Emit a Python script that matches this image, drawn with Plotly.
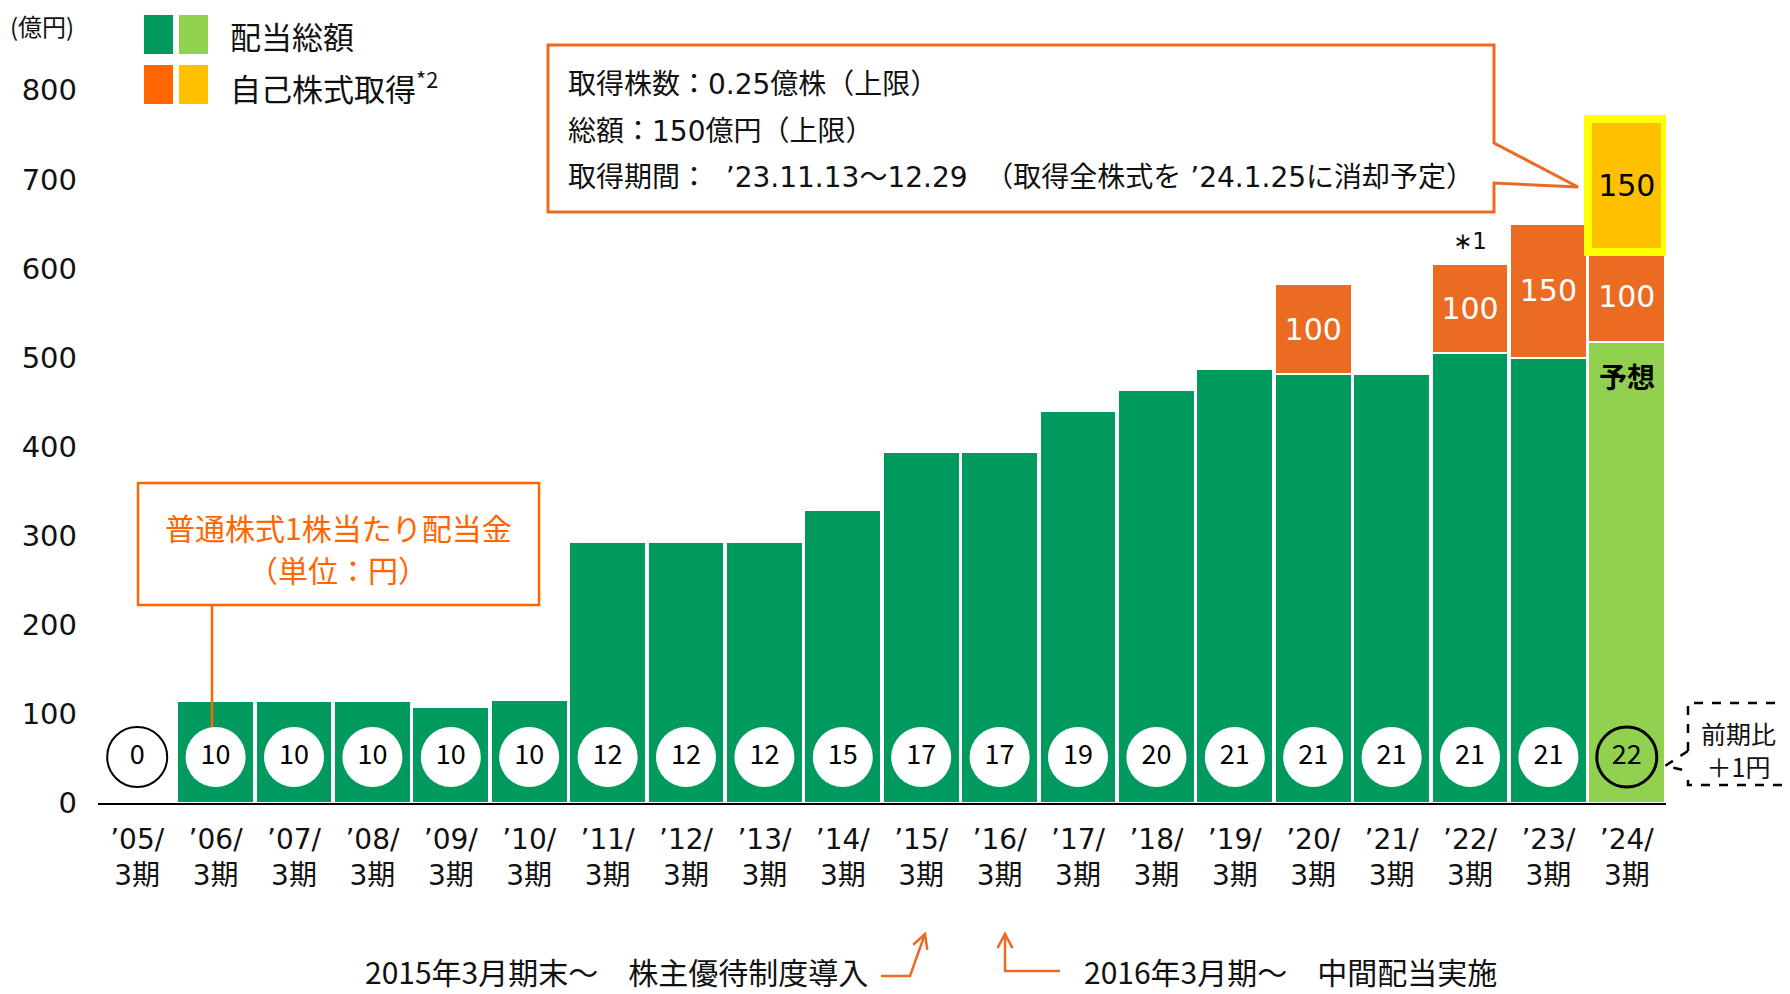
import math
import plotly.graph_objects as go

# ---------------- data ----------------
years = ["05", "06", "07", "08", "09", "10", "11", "12", "13", "14",
         "15", "16", "17", "18", "19", "20", "21", "22", "23", "24"]
categories = [f"’{y}/<br>3期" for y in years]
dividend_total = [0, 114, 114, 114, 108, 116, 293, 293, 293, 329,
                  394, 394, 440, 464, 487, 482, 482, 505, 500, 518]
buyback = [None] * 15 + [100, None, 100, 150, 100]
buyback_new = [None] * 19 + [150]
dps = [0, 10, 10, 10, 10, 10, 12, 12, 12, 15,
       17, 17, 19, 20, 21, 21, 21, 21, 21, 22]
y_ticks = [0, 100, 200, 300, 400, 500, 600, 700, 800]

# ---------------- styling ----------------
DARK_GREEN = "#00995E"
LIGHT_GREEN = "#92D050"
BAR_ORANGE = "#EB6B22"
LEG_ORANGE = "#FF6600"
YELLOW = "#FFC000"
HILITE = "#FFFF00"
CJK = "Noto Sans CJK JP"
WIDE = "DejaVu Sans, Noto Sans CJK JP"

PAGE_W, PAGE_H = 1790, 994
OFF = 8                      # default body margin of the html page
W, H = PAGE_W - OFF, PAGE_H - OFF
# plot area in page pixels
L, R, T, B = 98, 1666, 19, 803
Y_MAX = 880


def fx(p):
    return (p - L) / (R - L)


def fy(p):
    return (B - p) / (B - T)


def present(values):
    pairs = [(c, v) for c, v in zip(categories, values) if v is not None]
    return [c for c, _ in pairs], [v for _, v in pairs]


CIRCLE_Y = (B - 757) / ((B - T) / Y_MAX)

green_colors = [DARK_GREEN] * (len(years) - 1) + [LIGHT_GREEN]

fig = go.Figure()
fig.add_trace(go.Bar(
    x=categories, y=dividend_total, name="配当総額",
    marker=dict(color=green_colors, line=dict(color="white", width=2)),
    hoverinfo="skip"))
bx, by = present(buyback)
fig.add_trace(go.Bar(
    x=bx, y=by, name="自己株式取得",
    marker=dict(color=BAR_ORANGE, line=dict(color="white", width=2)),
    text=[str(v) for v in by],
    textposition="inside", insidetextanchor="middle",
    textfont=dict(family=WIDE, size=30, color="white"),
    hoverinfo="skip"))
nx, ny = present(buyback_new)
fig.add_trace(go.Bar(
    x=nx, y=ny, name="自己株式取得(新規)",
    marker=dict(color=YELLOW, line=dict(color=HILITE, width=8)),
    text=[str(v) for v in ny],
    textposition="inside", insidetextanchor="middle",
    textfont=dict(family=WIDE, size=30, color="black"),
    hoverinfo="skip"))

# circles with dividend per share
circle_fill = ["white"] * len(years)
circle_fill[-1] = "rgba(0,0,0,0)"
circle_line_c = ["white"] * len(years)
circle_line_c[0] = "black"
circle_line_c[-1] = "black"
circle_line_w = [0] * len(years)
circle_line_w[0] = 2
circle_line_w[-1] = 3
fig.add_trace(go.Scatter(
    x=categories, y=[CIRCLE_Y] * len(years), mode="markers+text",
    text=[str(v) for v in dps], textposition="middle center",
    textfont=dict(family=CJK, size=27, color="black"),
    marker=dict(size=60, color=circle_fill,
                line=dict(color=circle_line_c, width=circle_line_w)),
    cliponaxis=False, hoverinfo="skip"))

shapes = []
annos = []

# legend squares
for (x0, x1, y0, y1, c) in [(144, 173, 15, 54, DARK_GREEN), (179, 208, 15, 54, LIGHT_GREEN),
                            (144, 173, 65, 104, LEG_ORANGE), (179, 208, 65, 104, YELLOW)]:
    shapes.append(dict(type="rect", xref="paper", yref="paper", x0=fx(x0), x1=fx(x1),
                       y0=fy(y1), y1=fy(y0), fillcolor=c, line=dict(width=0)))
annos.append(dict(text="配当総額", x=fx(228), y=fy(36), xref="paper", yref="paper",
                  xanchor="left", yanchor="middle", showarrow=False,
                  font=dict(family=CJK, size=31, color="#111")))
annos.append(dict(text="自己株式取得<sup>*2</sup>", x=fx(228), y=fy(86), xref="paper", yref="paper",
                  xanchor="left", yanchor="middle", showarrow=False,
                  font=dict(family=CJK, size=31, color="#111")))
annos.append(dict(text="(億円)", x=fx(8), y=fy(25), xref="paper", yref="paper",
                  xanchor="left", yanchor="middle", showarrow=False,
                  font=dict(family=CJK, size=24, color="#111")))


def path(points, close=False):
    s = "M " + " L ".join(f"{fx(a):.5f},{fy(b):.5f}" for a, b in points)
    return s + (" Z" if close else "")


# callout box (top)
shapes.append(dict(type="path", xref="paper", yref="paper",
                   path=path([(548, 45), (1494, 45), (1494, 143), (1578, 187),
                              (1494, 183), (1494, 212), (548, 212)], close=True),
                   fillcolor="white", line=dict(color="#EB6B22", width=3)))
callout_lines = ["取得株数：0.25億株（上限）",
                 "総額：150億円（上限）",
                 "取得期間：  ’23.11.13～12.29  （取得全株式を ’24.1.25に消却予定）"]
for txt, yy in zip(callout_lines, [84, 131, 178]):
    annos.append(dict(text=txt, x=fx(566), y=fy(yy), xref="paper", yref="paper",
                      xanchor="left", yanchor="middle", showarrow=False,
                      font=dict(family=WIDE, size=28, color="#111")))

# left callout box
shapes.append(dict(type="rect", xref="paper", yref="paper", x0=fx(138), x1=fx(539),
                   y0=fy(605), y1=fy(483), fillcolor="white",
                   line=dict(color=LEG_ORANGE, width=2.5)))
shapes.append(dict(type="line", xref="paper", yref="paper", x0=fx(212), x1=fx(212),
                   y0=fy(605), y1=fy(727), line=dict(color=LEG_ORANGE, width=2.5)))
annos.append(dict(text="普通株式1株当たり配当金", x=fx(338), y=fy(527),
                  xref="paper", yref="paper", xanchor="center", yanchor="middle",
                  showarrow=False, font=dict(family=CJK, size=30, color=LEG_ORANGE)))
annos.append(dict(text="（単位：円）", x=fx(338), y=fy(569),
                  xref="paper", yref="paper", xanchor="center", yanchor="middle",
                  showarrow=False, font=dict(family=CJK, size=30, color=LEG_ORANGE)))

# dashed box right
shapes.append(dict(type="path", xref="paper", yref="paper",
                   path=path([(1688, 751), (1688, 703), (1787, 703), (1787, 785),
                              (1688, 785), (1688, 771)]),
                   line=dict(color="black", width=2.5, dash="dash")))
shapes.append(dict(type="path", xref="paper", yref="paper",
                   path=path([(1688, 751), (1665, 766), (1688, 771)]),
                   line=dict(color="black", width=2.5, dash="dash")))
annos.append(dict(text="前期比<br>＋1円", x=fx(1738), y=fy(749), xref="paper", yref="paper",
                  xanchor="center", yanchor="middle", showarrow=False, align="center",
                  font=dict(family=CJK, size=25, color="#111")))

# labels on bars
annos.append(dict(text="<b>予想</b>", x=categories[19], y=dividend_total[19], xref="x", yref="y",
                  xanchor="center", yanchor="top", yshift=-12, showarrow=False,
                  font=dict(family=CJK, size=28, color="black")))
annos.append(dict(text="∗1", x=categories[17], y=dividend_total[17] + buyback[17], xref="x", yref="y",
                  xanchor="center", yanchor="bottom", yshift=8, showarrow=False,
                  font=dict(family=WIDE, size=23, color="#111")))

# bottom notes with arrows
annos.append(dict(text="2015年3月期末～　株主優待制度導入", x=fx(870), y=fy(971), xref="paper", yref="paper",
                  xanchor="right", yanchor="middle", showarrow=False,
                  font=dict(family=CJK, size=30, color="#111")))
annos.append(dict(text="2016年3月期～　中間配当実施", x=fx(1082), y=fy(971), xref="paper", yref="paper",
                  xanchor="left", yanchor="middle", showarrow=False,
                  font=dict(family=CJK, size=30, color="#111")))


def arrow(points):
    shapes.append(dict(type="path", xref="paper", yref="paper", path=path(points),
                       line=dict(color="#EB6B22", width=2.5)))
    (ax, ay), (bx_, by_) = points[-2], points[-1]
    d = math.hypot(bx_ - ax, by_ - ay)
    ux, uy = (ax - bx_) / d, (ay - by_) / d
    hl, ang = 16, math.radians(28)
    p1 = (bx_ + hl * (ux * math.cos(ang) - uy * math.sin(ang)),
          by_ + hl * (ux * math.sin(ang) + uy * math.cos(ang)))
    p2 = (bx_ + hl * (ux * math.cos(-ang) - uy * math.sin(-ang)),
          by_ + hl * (ux * math.sin(-ang) + uy * math.cos(-ang)))
    shapes.append(dict(type="path", xref="paper", yref="paper", path=path([p1, (bx_, by_), p2]),
                       line=dict(color="#EB6B22", width=2.5)))


arrow([(881, 976), (910, 976), (925, 934)])
arrow([(1060, 971), (1005, 971), (1005, 934)])

fig.update_layout(
    width=W, height=H, barmode="stack", bargap=0.02, showlegend=False,
    margin=dict(l=L - OFF, r=W - (R - OFF), t=T - OFF, b=H - (B - OFF), pad=0),
    paper_bgcolor="white", plot_bgcolor="white",
    shapes=shapes, annotations=annos,
    xaxis=dict(type="category", categoryorder="array", categoryarray=categories,
               range=[-0.5, len(categories) - 0.5], showgrid=False, zeroline=False,
               showline=True, linecolor="black", linewidth=2, ticks="",
               ticklabelstandoff=10,
               tickfont=dict(family=WIDE, size=28, color="#111")),
    yaxis=dict(range=[0, Y_MAX], tickvals=y_ticks, showgrid=False, zeroline=False,
               showline=False, ticks="", ticklabelstandoff=20,
               tickfont=dict(family="DejaVu Sans", size=29, color="#111")),
)

fig.write_html("out.html")
